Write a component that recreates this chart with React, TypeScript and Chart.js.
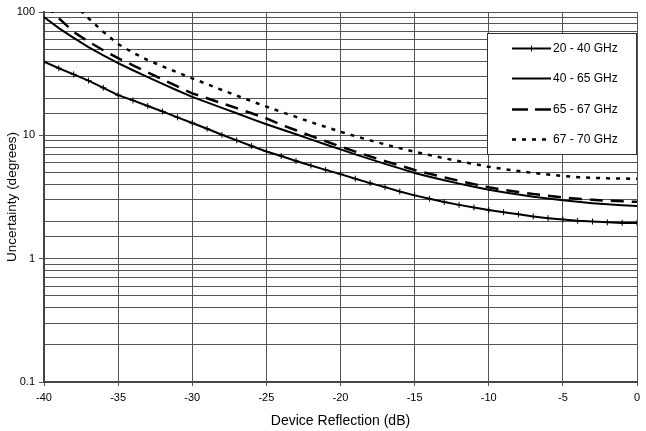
import React, { useEffect, useRef } from 'react';
import { Chart, registerables } from 'chart.js';

Chart.register(...registerables);

const FONT = '"Liberation Sans", Arial, sans-serif';

const reflectionDb = [
  -40, -39, -38, -37, -36, -35, -34, -33, -32, -31,
  -30, -29, -28, -27, -26, -25, -24, -23, -22, -21,
  -20, -19, -18, -17, -16, -15, -14, -13, -12, -11,
  -10, -9, -8, -7, -6, -5, -4, -3, -2, -1, 0,
];

const series20to40 = [
  39.5, 35.0, 31.2, 27.8, 24.3, 21.2, 19.2, 17.3, 15.6, 14.0,
  12.6, 11.3, 10.1, 9.1, 8.2, 7.4, 6.8, 6.2, 5.7, 5.25,
  4.85, 4.45, 4.1, 3.8, 3.5, 3.26, 3.06, 2.88, 2.73, 2.6,
  2.48, 2.38, 2.29, 2.2, 2.13, 2.08, 2.03, 2.0, 1.97, 1.95, 1.95,
];

const series40to65 = [
  91.2, 74, 61.7, 51.9, 44.5, 38.5, 33.7, 29.6, 26.1, 23.1,
  20.5, 18.5, 16.7, 15.1, 13.6, 12.3, 11.2, 10.2, 9.27, 8.43,
  7.69, 7.01, 6.41, 5.87, 5.4, 4.95, 4.62, 4.32, 4.06, 3.83,
  3.62, 3.46, 3.31, 3.18, 3.07, 2.97, 2.89, 2.82, 2.76, 2.71, 2.67,
];

const series65to67 = [
  117, 89, 69, 57.5, 49, 42.2, 37, 32.4, 28.4, 24.9,
  21.9, 20, 18.2, 16.6, 15.1, 13.7, 12.2, 11, 9.9, 8.95,
  8.1, 7.38, 6.75, 6.18, 5.69, 5.24, 4.88, 4.56, 4.28, 4.02,
  3.79, 3.61, 3.47, 3.34, 3.24, 3.14, 3.06, 3.0, 2.95, 2.92, 2.89,
];

const series67to70 = [
  null, null, 117, 89, 69, 55, 46.8, 40.7, 36.3, 32.4,
  29, 26, 23.3, 21, 18.9, 17.1, 15.5, 14.1, 12.8, 11.7,
  10.7, 9.85, 9.1, 8.45, 7.87, 7.36, 6.92, 6.52, 6.17, 5.85,
  5.56, 5.33, 5.13, 4.95, 4.81, 4.68, 4.58, 4.52, 4.48, 4.46, 4.45,
];

const seriesNames = ['20 - 40 GHz', '40 - 65 GHz', '65 - 67 GHz', '67 - 70 GHz'];
const xTickValues = [-40, -35, -30, -25, -20, -15, -10, -5, 0];
const yMajorTicks = [0.1, 1, 10, 100];
const xTitle = 'Device Reflection (dB)';
const yTitle = 'Uncertainty (degrees)';

const GRID = '#555';

const isMajor = (v: number) =>
  yMajorTicks.some((m) => Math.abs(v - m) / m < 1e-6);

const toPoints = (vals: (number | null)[]) =>
  reflectionDb.map((x, i) => ({ x, y: vals[i] }));

const legendPlugin = {
  id: 'boxLegend',
  afterDraw(chart: any) {
    const ctx = chart.ctx as CanvasRenderingContext2D;
    const boxX = 487;
    const boxY = 33;
    const boxW = 149;
    const boxH = 121;
    ctx.save();
    ctx.fillStyle = '#ffffff';
    ctx.fillRect(boxX, boxY, boxW, boxH);
    ctx.strokeStyle = '#333';
    ctx.lineWidth = 1;
    ctx.setLineDash([]);
    ctx.strokeRect(boxX + 0.5, boxY + 0.5, boxW, boxH);
    chart.data.datasets.forEach((ds: any, i: number) => {
      const y = Math.round(boxY + 15 + i * 30.3) + 0.5;
      ctx.beginPath();
      ctx.strokeStyle = '#000';
      ctx.lineWidth = ds.borderWidth;
      ctx.setLineDash(ds.legendDash || []);
      ctx.moveTo(512, y);
      ctx.lineTo(551, y);
      ctx.stroke();
      ctx.setLineDash([]);
      if (ds.pointStyle === 'cross') {
        ctx.beginPath();
        ctx.lineWidth = 1;
        ctx.moveTo(531.5, y - 3);
        ctx.lineTo(531.5, y + 3);
        ctx.stroke();
      }
      ctx.fillStyle = '#000';
      ctx.font = `12px ${FONT}`;
      ctx.textAlign = 'left';
      ctx.textBaseline = 'middle';
      ctx.fillText(ds.label, 553, y);
    });
    ctx.restore();
  },
};

export default function App() {
  const canvasRef = useRef<HTMLCanvasElement | null>(null);

  useEffect(() => {
    if (!canvasRef.current) return;
    const chart = new Chart(canvasRef.current, {
      type: 'line',
      data: {
        datasets: [
          {
            label: seriesNames[0],
            data: toPoints(series20to40),
            borderColor: '#000',
            borderWidth: 2,
            pointStyle: 'cross',
            pointRadius: 3,
            pointBorderWidth: 1,
            pointBorderColor: '#000',
            tension: 0,
          } as any,
          {
            label: seriesNames[1],
            data: toPoints(series40to65),
            borderColor: '#000',
            borderWidth: 2,
            pointRadius: 0,
            tension: 0,
          },
          {
            label: seriesNames[2],
            data: toPoints(series65to67),
            borderColor: '#000',
            borderWidth: 2.5,
            borderDash: [13, 8],
            legendDash: [16, 7],
            pointRadius: 0,
            tension: 0,
          },
          {
            label: seriesNames[3],
            data: toPoints(series67to70),
            borderColor: '#000',
            borderWidth: 2.5,
            borderDash: [4, 6],
            legendDash: [4, 6],
            pointRadius: 0,
            tension: 0,
            spanGaps: false,
          },
        ],
      },
      options: {
        responsive: false,
        animation: false,
        layout: { padding: { top: 12, right: 9, left: 0, bottom: 0 } },
        plugins: {
          legend: { display: false },
          tooltip: { enabled: false },
        },
        scales: {
          x: {
            type: 'linear',
            min: -40,
            max: 0,
            afterBuildTicks: (s: any) => {
              s.ticks = xTickValues.map((v) => ({ value: v }));
            },
            afterFit: (s: any) => {
              s.height = 49;
            },
            ticks: {
              color: '#000',
              font: { size: 11, family: FONT },
              padding: 5,
              maxRotation: 0,
              autoSkip: false,
              callback: (v: any) => String(v),
            },
            grid: { color: GRID, lineWidth: 1, tickLength: 4, tickColor: GRID },
            border: { color: '#444', width: 2 },
            title: {
              display: true,
              text: xTitle,
              color: '#000',
              font: { size: 14, family: FONT },
              padding: { top: 0, bottom: 1 },
            },
          },
          y: {
            type: 'logarithmic',
            min: 0.1,
            max: 100,
            afterFit: (s: any) => {
              s.width = 44;
            },
            ticks: {
              color: '#000',
              font: { size: 11, family: FONT },
              padding: 4,
              autoSkip: false,
              callback: (v: any) => {
                const n = Number(v);
                return isMajor(n) ? String(Number(n.toPrecision(1))) : '';
              },
            },
            grid: {
              color: GRID,
              lineWidth: 1,
              tickLength: 5,
              tickColor: (c: any) =>
                c.tick && isMajor(c.tick.value) ? GRID : 'rgba(0,0,0,0)',
            },
            border: { color: '#444', width: 2 },
            title: {
              display: true,
              text: yTitle,
              color: '#000',
              font: { size: 13.5, family: FONT },
              padding: { top: 4, bottom: 0 },
            },
          },
        },
      } as any,
      plugins: [legendPlugin],
    });
    return () => chart.destroy();
  }, []);

  return (
    <div style={{ position: 'fixed', left: 0, top: 0, width: 646, height: 431, background: '#fff' }}>
      <canvas ref={canvasRef} width={646} height={431} style={{ display: 'block' }} />
    </div>
  );
}
